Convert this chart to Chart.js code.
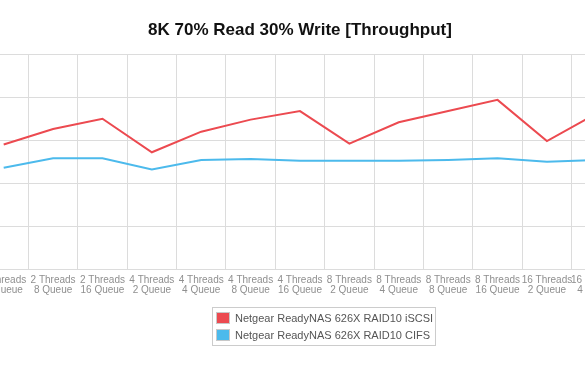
<!DOCTYPE html>
<html>
<head>
<meta charset="utf-8">
<script src="https://cdn.jsdelivr.net/npm/chart.js@4.4.1/dist/chart.umd.min.js"></script>
<style>
  html, body { margin: 0; padding: 0; background: #fff; }
  #wrap { position: relative; width: 585px; height: 372px; overflow: hidden; background: #fff; }
  #holder { position: absolute; left: -40px; top: 0; width: 680px; height: 372px; }
  #legend {
    position: absolute; left: 212px; top: 307px; width: 219px; height: 36px;
    border: 1px solid #ccc; padding: 1px 0 0 3px; box-sizing: content-box;
    font: 11px "Liberation Sans", Arial, sans-serif; color: #555;
  }
  #legend .row { display: flex; align-items: center; height: 17px; white-space: nowrap; }
  #legend .sw { flex: none; width: 12px; height: 10px; border: 1px solid #c8c8c8; margin-right: 5px; }
</style>
</head>
<body>
<div id="wrap">
  <div id="holder"><canvas id="myChart" width="680" height="372"></canvas></div>
  <div id="legend"></div>
</div>
<script>
// visible part of the x axis (threads / queue depth)
const threadLabels = ['2 Threads', '2 Threads', '2 Threads', '4 Threads', '4 Threads', '4 Threads', '4 Threads',
  '8 Threads', '8 Threads', '8 Threads', '8 Threads', '16 Threads', '16 Threads'];
const queueLabels = ['4 Queue', '8 Queue', '16 Queue', '2 Queue', '4 Queue', '8 Queue', '16 Queue',
  '2 Queue', '4 Queue', '8 Queue', '16 Queue', '2 Queue', '4 Queue'];

const iscsiValues = [145, 163, 175, 136, 160, 174, 184, 146, 171, 184, 197, 149, 181];
const cifsValues = [118, 129, 129, 116, 127, 128, 126, 126, 126, 127, 129, 125, 127];

const seriesNames = ['Netgear ReadyNAS 626X RAID10 iSCSI', 'Netgear ReadyNAS 626X RAID10 CIFS'];
const seriesColors = ['rgb(236, 74, 80)', 'rgb(76, 186, 236)'];

const yTicks = [0, 50, 100, 150, 200, 250];

const labels = threadLabels.map((t, i) => [t, queueLabels[i]]);
const font = '"Liberation Sans", Arial, sans-serif';

const legendBox = document.getElementById('legend');
seriesNames.forEach((name, i) => {
  const row = document.createElement('div');
  row.className = 'row';
  row.innerHTML = `<span class="sw" style="background:${seriesColors[i]}"></span><span>${name}</span>`;
  legendBox.appendChild(row);
});

const ctx = document.getElementById('myChart').getContext('2d');
new Chart(ctx, {
  type: 'line',
  data: {
    labels: labels,
    datasets: [
      {
        label: seriesNames[0],
        data: iscsiValues,
        borderColor: seriesColors[0],
        borderWidth: 2,
        pointRadius: 0,
        tension: 0,
        fill: false,
      },
      {
        label: seriesNames[1],
        data: cifsValues,
        borderColor: seriesColors[1],
        borderWidth: 2,
        pointRadius: 0,
        tension: 0,
        fill: false,
      },
    ],
  },
  options: {
    responsive: false,
    animation: false,
    layout: { padding: { left: 19, right: 19, top: 0, bottom: 63 } },
    plugins: {
      legend: { display: false },
      tooltip: { enabled: false },
      title: {
        display: true,
        text: '8K 70% Read 30% Write [Throughput]',
        color: '#111',
        font: { family: font, size: 17, weight: 'bold' },
        padding: { top: 20, bottom: 14 },
      },
    },
    scales: {
      x: {
        offset: true,
        grid: { offset: true, color: '#dcdcdc', drawTicks: false },
        border: { display: true, color: '#dcdcdc' },
        ticks: {
          color: '#8f8f8f',
          font: { family: font, size: 10, lineHeight: 1.0 },
          padding: 6,
          maxRotation: 0,
          autoSkip: false,
        },
        afterFit: (s) => { s.height = 40; },
      },
      y: {
        min: yTicks[0],
        max: yTicks[yTicks.length - 1],
        afterBuildTicks: (s) => { s.ticks = yTicks.map(v => ({ value: v })); },
        grid: { color: '#dcdcdc', drawTicks: false },
        border: { display: false },
        ticks: { display: false },
        afterFit: (s) => { s.width = 0; },
      },
    },
  },
});
</script>
</body>
</html>
